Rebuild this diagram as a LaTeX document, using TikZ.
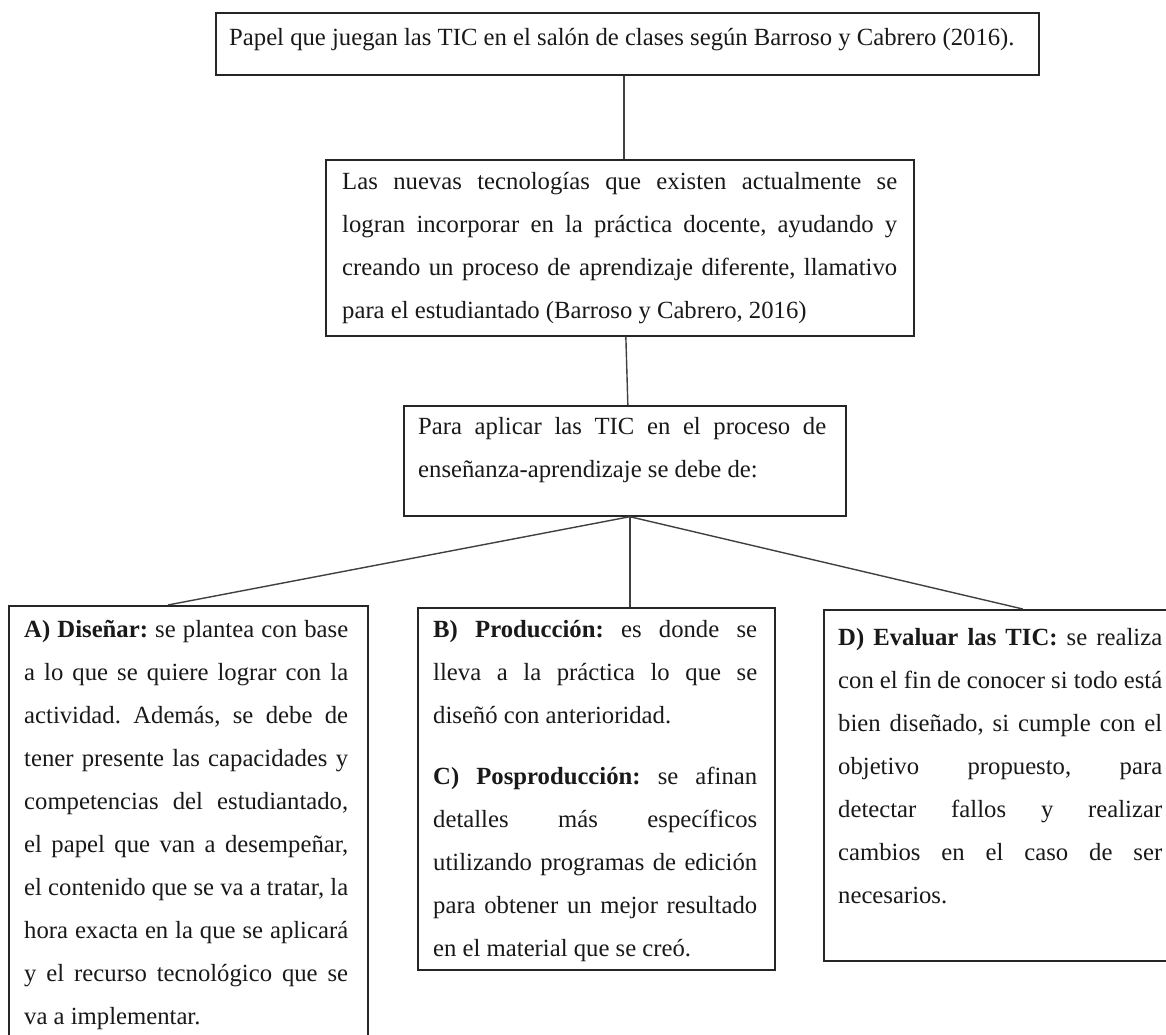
\documentclass[tikz,border=0pt]{standalone}
\usepackage{fontspec}
\setmainfont{Liberation Serif}
\newcommand\jl[1]{\hbox to \hsize{#1}}
\newcommand\nl[1]{\hbox{#1}}
\newcommand\para[2]{\vtop{\hsize=#1pt \baselineskip=43pt \lineskiplimit=-100pt \frenchspacing #2}}
\begin{document}
\begin{tikzpicture}[x=1pt,y=-1pt,
  font=\fontsize{24.7}{43}\selectfont,
  box/.style={draw=black!85, line width=1.7pt, rectangle, inner sep=0pt, anchor=north west},
  txt/.style={anchor=base west, inner sep=0pt, text=black!90},
  conn/.style={draw=black!75, line width=1.4pt}]
\clip (0,0) rectangle (1166,1034);
\fill[white] (0,0) rectangle (1166,1034);

\node[box, minimum width=823pt, minimum height=62pt] (t) at (215,12) {};
\node[txt] (tt) at (229,45) {Papel que juegan las TIC en el salón de clases según Barroso y Cabrero (2016).};

\node[box, minimum width=588pt, minimum height=176pt] (b2) at (325,159) {};
\node[txt] (t2) at (342,189) {\para{555}{%
\jl{Las nuevas tecnologías que existen actualmente se}
\jl{logran incorporar en la práctica docente, ayudando y}
\jl{creando un proceso de aprendizaje diferente, llamativo}
\nl{para el estudiantado (Barroso y Cabrero, 2016)}}};

\node[box, minimum width=442pt, minimum height=110pt] (b3) at (403,405) {};
\node[txt] (t3) at (418,434) {\para{408}{%
\jl{Para aplicar las TIC en el proceso de}
\nl{enseñanza-aprendizaje se debe de:}}};

\node[box, minimum width=359pt, minimum height=445pt] (ba) at (8,605) {};
\node[txt] (ta) at (24,637) {\para{324}{%
\jl{\textbf{A) Diseñar:} se plantea con base}
\jl{a lo que se quiere lograr con la}
\jl{actividad. Además, se debe de}
\jl{tener presente las capacidades y}
\jl{competencias del estudiantado,}
\jl{el papel que van a desempeñar,}
\jl{el contenido que se va a tratar, la}
\jl{hora exacta en la que se aplicará}
\jl{y el recurso tecnológico que se}
\nl{va a implementar.}}};

\node[box, minimum width=357pt, minimum height=362pt] (bb) at (417,607) {};
\node[txt] (tb) at (433,637) {\para{324}{%
\jl{\textbf{B) Producción:} es donde se}
\jl{lleva a la práctica lo que se}
\nl{diseñó con anterioridad.}
\vskip 18pt
\jl{\textbf{C) Posproducción:} se afinan}
\jl{detalles más específicos}
\jl{utilizando programas de edición}
\jl{para obtener un mejor resultado}
\nl{en el material que se creó.}}};

\node[box, minimum width=380pt, minimum height=351pt] (bd) at (823,609) {};
\node[txt] (td) at (838,645) {\para{324}{%
\jl{\textbf{D) Evaluar las TIC:} se realiza}
\jl{con el fin de conocer si todo está}
\jl{bien diseñado, si cumple con el}
\jl{objetivo propuesto, para}
\jl{detectar fallos y realizar}
\jl{cambios en el caso de ser}
\nl{necesarios.}}};

\draw[conn] ([xshift=-3.5pt]t.south) -- ([xshift=4pt]b2.north);
\draw[conn] ([xshift=6pt]b2.south) -- ([xshift=3pt]b3.north);
\draw[conn] ([xshift=5pt]b3.south) -- ([xshift=-20.5pt]ba.north);
\draw[conn] ([xshift=5pt]b3.south) -- ([xshift=33.5pt]bb.north);
\draw[conn] ([xshift=5pt]b3.south) -- ([xshift=9pt]bd.north);
\end{tikzpicture}
\end{document}
